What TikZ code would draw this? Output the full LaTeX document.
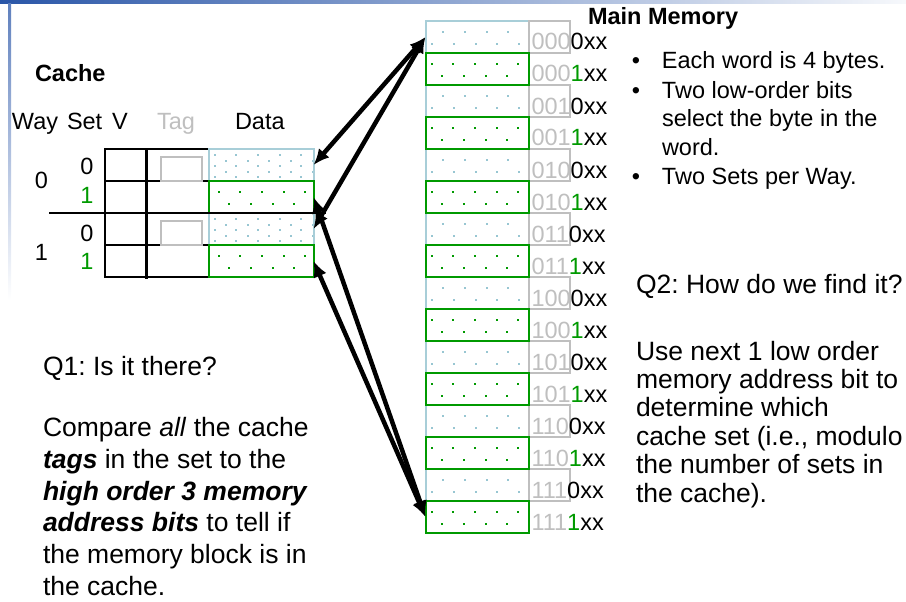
\documentclass[tikz,border=0pt]{standalone}
\usepackage{fontspec}
\setmainfont{Liberation Sans}
\usetikzlibrary{arrows.meta,positioning,calc}
\definecolor{barblue}{HTML}{2A56A8}
\definecolor{taggray}{HTML}{BFBFBF}
\definecolor{setgreen}{HTML}{009A00}
\definecolor{cellblue}{HTML}{A8CED8}
\definecolor{dotblue}{HTML}{98C6D2}
\frenchspacing
\tikzset{
  txt/.style={inner sep=0pt,outer sep=0pt,anchor=base west,
    font=\fontsize{23.5}{29}\selectfont},
  qtxt/.style={txt,align=left,font=\fontsize{26.5}{31.7}\selectfont},
  bluecell/.style={draw=cellblue,line width=2pt,fill=white,
    minimum width=103pt,minimum height=32pt,inner sep=0pt,outer sep=0pt},
  greencell/.style={bluecell,draw=setgreen},
  addrbox/.style={draw=taggray,line width=2pt,minimum width=41pt,
    minimum height=32pt,inner sep=0pt,outer sep=0pt},
  tagbox/.style={addrbox,minimum height=24pt},
  grid/.style={line width=2pt,line cap=rect},
  link/.style={{Latex[length=16pt,width=14pt]}-{Latex[length=16pt,width=14pt]},
    line width=4.5pt},
  sparsedots/.style 2 args={path picture={
    \foreach \k in {0,...,4}{
      \fill[#1] ($(path picture bounding box.north west)+({#2+21.7*\k},10)$)
        rectangle ++(2,2);
      \fill[#1] ($(path picture bounding box.north west)+({mod(#2+10.85,21.7)+21.7*\k},22)$)
        rectangle ++(2,2);
    }}},
  densedots/.style={path picture={
    \foreach \r in {0,...,4}
      \foreach \k in {0,...,4}
        \fill[#1] ($(path picture bounding box.north west)+({5+11.5*mod(\r,2)+21.7*\k},{5+5.6*\r})$)
          rectangle ++(2,2);
    }}
}
% tag bits / set bit of the sixteen memory words
\def\memrows{000/0,000/1,001/0,001/1,010/0,010/1,011/0,011/1,
  100/0,100/1,101/0,101/1,110/0,110/1,111/0,111/1}

\begin{document}
\begin{tikzpicture}[x=1pt,y=-1pt]
\useasboundingbox (0,0) rectangle (906,602);
\shade[left color=barblue,right color=barblue!4] (0,0) rectangle (906,4);
\shade[top color=barblue!75,bottom color=white] (8,4) rectangle (11,300);

% cache
\node[txt,font=\fontsize{23.5}{29}\selectfont\bfseries] (cachetitle) at (35,82) {Cache};
\node[txt] (hway) at (12,130) {Way};
\node[txt] (hset) at (67,130) {Set};
\node[txt] (hv) at (112,130) {V};
\node[txt,text=taggray] (htag) at (157,130) {Tag};
\node[txt] (hdata) at (235,130) {Data};

\foreach \w/\y in {0/188,1/260}
  \node[txt,anchor=base] (way\w) at (41.5,\y) {\w};
\foreach \s/\y/\c [count=\j from 0] in {0/175/black,1/203/setgreen,0/241/black,1/269/setgreen}
  \node[txt,anchor=base,text=\c] (set\j) at (87,\y) {\s};

\draw[grid] (105,149) -- (208,149) (105,181) -- (208,181)
  (105,245) -- (208,245) (105,277) -- (208,277);
\draw[grid] (105,149) -- (105,277);
\draw[grid,line width=3pt] (146,149) -- (146,277);
\node[tagbox] (tag0) at (181.5,169) {};
\node[tagbox] (tag2) at (181.5,233) {};

\node[bluecell,minimum width=105pt,densedots=dotblue] (c0) at (261,165) {};
\node[bluecell,minimum width=105pt,densedots=dotblue] (c2) at (261,229) {};
\node[greencell,minimum width=105pt,sparsedots={setgreen}{9}] (c1) at (261,197) {};
\node[greencell,minimum width=105pt,sparsedots={setgreen}{9}] (c3) at (261,261) {};
\draw[grid] (50,213) -- (325,213);

% main memory
\node[txt,font=\fontsize{23.5}{29}\selectfont\bfseries] (memtitle) at (588,25) {Main Memory};
\foreach \tg/\sb [count=\i from 0] in \memrows {
  \ifnum\sb=0
    \node[bluecell,sparsedots={dotblue}{16.7}] (m\i) at (477,{37+32*\i}) {};
    \node[addrbox,right=0pt of m\i] (a\i) {};
  \fi
}
\foreach \tg/\sb [count=\i from 0] in \memrows {
  \ifnum\sb=1
    \node[greencell,sparsedots={setgreen}{5}] (m\i) at (477,{37+32*\i}) {};
  \fi
}
\foreach \tg/\sb [count=\i from 0] in \memrows
  \node[txt] (addr\i) at (531.5,{50+32*\i})
    {{\color{taggray}\tg}{\ifnum\sb=1 \color{setgreen}\fi\sb}xx};

% notes (multi-line nodes sit on the baseline of their last line)
\node[txt] (note1) at (662,68.5) {\llap{\textbullet\hspace{22pt}}Each word is 4 bytes.};
\node[txt,align=left] (note2) at (662,156)
  {\llap{\textbullet\hspace{22pt}}Two low-order bits\\select the byte in the\\word.};
\node[txt] (note3) at (662,184.5) {\llap{\textbullet\hspace{22pt}}Two Sets per Way.};

\node[qtxt] (q1) at (43,375) {Q1: Is it there?};
\node[qtxt] (q1ans) at (43,595.2)
  {Compare \emph{all} the cache\\
   \textbf{\emph{tags}} in the set to the\\
   \textbf{\emph{high order 3 memory}}\\
   \textbf{\emph{address bits}} to tell if\\
   the memory block is in\\
   the cache.};

\node[qtxt,font=\fontsize{26.5}{28.4}\selectfont] (q2) at (636,293) {Q2: How do we find it?};
\node[qtxt,font=\fontsize{26.5}{28.4}\selectfont] (q2ans) at (636,502)
  {Use next 1 low order\\
   memory address bit to\\
   determine which\\
   cache set (i.e., modulo\\
   the number of sets in\\
   the cache).};

% block moves between memory and cache sets
\draw[link] (m0.west) -- (c0.east);
\draw[link] (m0.west) -- (c2.east);
\draw[link] (m15.west) -- (c1.east);
\draw[link] (m15.west) -- (c3.east);
\end{tikzpicture}
\end{document}
